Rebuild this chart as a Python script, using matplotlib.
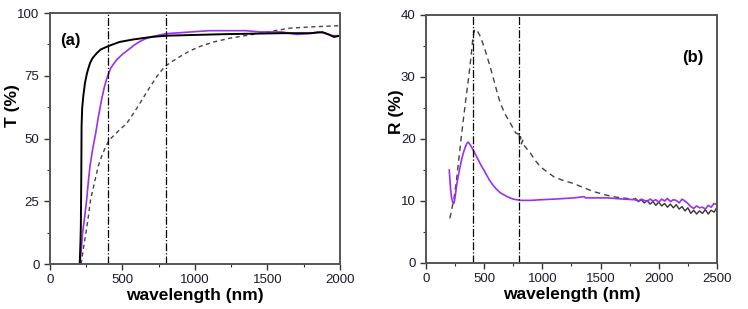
import matplotlib
matplotlib.use("Agg")
import matplotlib.pyplot as plt
from matplotlib.ticker import MultipleLocator

plt.rcParams['font.family'] = ['Liberation Sans', 'DejaVu Sans']

purple = '#9b30f0'

# ---- panel (a): transmittance ----
a_black_x = [205, 210, 213, 216, 218, 222, 230, 241, 255, 265, 276, 290, 300, 322, 350, 400, 480, 575, 700, 805, 1000, 1200, 1400, 1600, 1800, 1880, 1920, 1960, 2000]
a_black_y = [0, 8, 15, 35, 55, 62, 67, 72, 76, 78, 80, 81.7, 82.5, 84, 85.5, 86.8, 88.5, 89.5, 90.5, 91, 91.3, 91.6, 91.8, 92, 92, 92.4, 91.5, 90.5, 91]
a_purple_x = [207, 215, 225, 240, 253, 265, 276, 295, 315, 335, 356, 375, 395, 420, 460, 500, 540, 580, 620, 660, 713, 760, 800, 950, 1100, 1350, 1450, 1600, 1700, 1780, 1850, 1900, 1950, 2000]
a_purple_y = [0, 5, 12.4, 19, 25.6, 33, 39, 46, 52, 59, 65.5, 70.5, 74.5, 78.2, 81.4, 83.6, 85.4, 87.2, 88.7, 89.8, 90.7, 91.3, 91.8, 92.4, 93, 93, 92.5, 92.5, 91.5, 91.8, 92.5, 92, 91, 91]
a_dash_x = [215, 230, 248, 265, 280, 305, 333, 360, 386, 410, 437, 480, 529, 570, 609, 678, 740, 793, 850, 897, 960, 1034, 1130, 1241, 1448, 1655, 1800, 2000]
a_dash_y = [0, 6, 12.4, 19, 25.6, 32, 39, 43.5, 47, 49.5, 51, 53.5, 56, 59.5, 63, 69.5, 75, 78.8, 81, 82.7, 84.8, 86.7, 88.5, 90, 92, 94, 94.5, 95]

# ---- panel (b): reflectance ----
b_purple_x = [200, 205, 212, 220, 230, 238, 245, 255, 265, 280, 296, 310, 325, 340, 352, 362, 372, 385, 400, 420, 450, 475, 497, 520, 545, 570, 600, 640, 698, 750, 812, 900, 985, 1100, 1271, 1360, 1370, 1400, 1558, 1700, 1800]
b_purple_y = [15.0, 13.5, 11.8, 10.5, 9.8, 9.6, 10.0, 11.3, 12.7, 14.3, 15.8, 17.0, 18.0, 18.8, 19.3, 19.5, 19.3, 18.9, 18.4, 17.7, 16.6, 15.7, 15.0, 14.2, 13.4, 12.7, 12.0, 11.3, 10.7, 10.3, 10.1, 10.1, 10.2, 10.3, 10.5, 10.7, 10.5, 10.5, 10.5, 10.3, 10.2]
b_dash_x = [204, 215, 225, 238, 260, 281, 300, 324, 345, 367, 390, 400, 410, 418, 425, 435, 445, 468, 500, 525, 555, 583, 610, 640, 680, 726, 770, 790, 800, 805, 812, 820, 830, 840, 850, 898, 940, 985, 1040, 1099, 1180, 1271, 1360, 1444, 1558, 1640, 1731, 1800]
b_dash_y = [7.2, 8.0, 9.0, 10.1, 13.0, 16.6, 19.8, 23.6, 26.8, 30.0, 33.8, 35.8, 37.0, 37.6, 37.7, 37.6, 37.3, 36.5, 34.8, 33.3, 31.4, 29.5, 27.6, 25.7, 24.0, 22.5, 21.0, 20.8, 21.2, 19.6, 20.4, 19.2, 19.8, 19.0, 18.8, 17.7, 16.5, 15.5, 14.7, 13.9, 13.3, 12.8, 12.1, 11.5, 10.9, 10.6, 10.4, 10.3]
b_noise_x = list(range(1800, 2501, 25))
b_purple_noise = [10.2, 10.0, 10.3, 10.1, 9.9, 10.3, 10.0, 10.2, 9.8, 10.3, 10.0, 10.4, 9.9, 10.2, 10.1, 9.7, 10.3, 10.0, 9.6, 9.1, 8.8, 9.2, 8.9, 9.0, 8.7, 9.3, 9.0, 9.6, 9.4]
b_black_noise = [10.4, 9.9, 10.2, 9.7, 10.1, 9.5, 9.9, 9.3, 9.8, 9.2, 9.6, 9.0, 9.5, 8.9, 9.4, 8.7, 9.1, 8.4, 8.9, 8.0, 8.5, 7.9, 8.4, 8.0, 8.6, 7.9, 8.5, 8.2, 9.0]

marks = [400, 800]

fig = plt.figure(figsize=(7.48, 3.09), dpi=100)
ax1 = fig.add_axes([0.0668, 0.1456, 0.3877, 0.812])
ax2 = fig.add_axes([0.5695, 0.1489, 0.389, 0.8026])


def style(ax):
    for s in ax.spines.values():
        s.set_color('#555555')
        s.set_linewidth(1.4)
    ax.tick_params(which='both', direction='out', top=False, right=False,
                   color='#333333', labelsize=9.5, labelcolor='#1a1a2a')
    ax.tick_params(which='major', length=4, width=1)
    ax.tick_params(which='minor', length=2.5, width=0.8)
    ax.set_xlabel('wavelength (nm)', fontsize=12.5, fontweight='bold', labelpad=1)


ax1.plot(a_dash_x, a_dash_y, color='#444444', lw=1.0, ls=(0, (3, 2.5)))
ax1.plot(a_purple_x, a_purple_y, color=purple, lw=1.2)
ax1.plot(a_black_x, a_black_y, color='black', lw=1.4)
for m in marks:
    ax1.axvline(m, color='black', lw=0.9, ls='-.')
ax1.set_xlim(0, 2000)
ax1.set_ylim(0, 100)
ax1.xaxis.set_major_locator(MultipleLocator(500))
ax1.xaxis.set_minor_locator(MultipleLocator(250))
ax1.yaxis.set_major_locator(MultipleLocator(25))
ax1.yaxis.set_minor_locator(MultipleLocator(12.5))
ax1.set_ylabel('T (%)', fontsize=12.5, fontweight='bold')
ax1.yaxis.set_label_coords(-0.103, 0.633)
ax1.text(70, 89, '(a)', fontsize=12, fontweight='bold', va='center')
style(ax1)

ax2.plot(b_dash_x, b_dash_y, color='#444444', lw=1.0, ls=(0, (4, 3)))
ax2.plot(b_noise_x, b_black_noise, color='#333333', lw=1.0)
ax2.plot(b_purple_x, b_purple_y, color=purple, lw=1.2)
ax2.plot(b_noise_x, b_purple_noise, color=purple, lw=1.2)
for m in marks:
    ax2.axvline(m, color='black', lw=0.9, ls='-.')
ax2.set_xlim(0, 2500)
ax2.set_ylim(0, 40)
ax2.xaxis.set_major_locator(MultipleLocator(500))
ax2.xaxis.set_minor_locator(MultipleLocator(250))
ax2.yaxis.set_major_locator(MultipleLocator(10))
ax2.yaxis.set_minor_locator(MultipleLocator(5))
ax2.set_ylabel('R (%)', fontsize=12.5, fontweight='bold')
ax2.yaxis.set_label_coords(-0.076, 0.61)
ax2.text(2200, 33.2, '(b)', fontsize=12, fontweight='bold', va='center')
style(ax2)

fig.savefig('out.png', dpi=100)
